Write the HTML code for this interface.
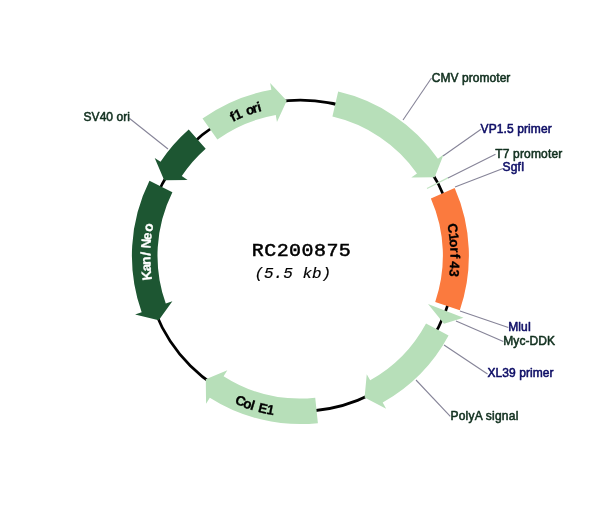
<!DOCTYPE html>
<html lang="en"><head><meta charset="utf-8"><title>RC200875 plasmid map</title>
<style>
html,body{margin:0;padding:0;background:#fff;}
body{width:600px;height:512px;overflow:hidden;}
svg{display:block;opacity:0.999;will-change:opacity;}
.lbl{font-family:"Liberation Sans",Arial,sans-serif;font-size:12px;stroke-width:0.55px;letter-spacing:0.06px;stroke-linejoin:round;}
.ct{font-family:"Liberation Sans",Arial,sans-serif;font-weight:bold;stroke-width:0.3px;stroke-linejoin:round;}
.title{font-family:"Liberation Mono","Courier New",monospace;font-weight:normal;font-size:20px;letter-spacing:0.44px;fill:#000;stroke:#000;stroke-width:0.55px;}
.sub{font-family:"Liberation Mono","Courier New",monospace;font-style:italic;font-size:16px;letter-spacing:0;fill:#000;stroke:#000;stroke-width:0.2px;}
</style></head><body>
<svg width="600" height="512" viewBox="0 0 600 512">
<defs><path id="t_f1" d="M198.42,145.88 A149.80,149.80 0 0 1 303.31,105.93"/><path id="t_kan" d="M159.80,308.51 A150.10,150.10 0 0 1 162.55,196.09"/><path id="t_orf" d="M437.21,194.17 A150.10,150.10 0 0 1 441.53,306.54"/><path id="t_col" d="M198.76,381.54 A161.70,161.70 0 0 0 314.67,416.76"/></defs>
<circle cx="300.30" cy="255.70" r="155.60" fill="none" stroke="#000" stroke-width="2.7"/>
<path d="M338.18,91.62 A168.40,168.40 0 0 1 437.91,158.64 L443.63,154.60 L434.64,177.20 L411.27,177.43 L416.99,173.39 A142.80,142.80 0 0 0 332.42,116.56 Z" fill="#b7dfb9"/>
<path d="M202.51,118.60 A168.40,168.40 0 0 1 271.35,89.81 L270.15,82.91 L286.74,100.69 L276.96,121.92 L275.75,115.03 A142.80,142.80 0 0 0 217.38,139.44 Z" fill="#b7dfb9"/>
<path d="M188.71,129.58 A168.40,168.40 0 0 0 160.52,161.78 L154.71,157.88 L164.21,180.26 L187.58,179.96 L181.77,176.06 A142.80,142.80 0 0 1 205.68,148.75 Z" fill="#1d5632"/>
<path d="M149.46,180.82 A168.40,168.40 0 0 0 141.66,312.20 L135.07,314.55 L158.71,320.23 L172.37,301.26 L165.78,303.61 A142.80,142.80 0 0 1 172.39,192.21 Z" fill="#1d5632"/>
<path d="M317.90,423.18 A168.40,168.40 0 0 1 209.81,397.72 L206.05,403.63 L205.79,379.31 L227.33,370.23 L223.57,376.13 A142.80,142.80 0 0 0 315.23,397.72 Z" fill="#b7dfb9"/>
<path d="M448.57,335.54 A168.40,168.40 0 0 1 382.71,402.56 L386.13,408.66 L364.58,397.40 L366.75,374.13 L370.18,380.23 A142.80,142.80 0 0 0 426.03,323.40 Z" fill="#b7dfb9"/>
<path d="M454.68,187.93 A168.60,168.60 0 0 1 459.81,310.31 L435.21,301.89 A142.60,142.60 0 0 0 430.87,198.38 Z" fill="#fb7a3e"/>
<path d="M428,304 L463.5,317.8 L444,323.8 Z" fill="#b7dfb9"/>
<line x1="427" y1="188.5" x2="448.3" y2="177.6" stroke="#c3e4c4" stroke-width="1.2"/>
<line x1="431.5" y1="78" x2="403" y2="120" stroke="#868498" stroke-width="1.1"/>
<line x1="481" y1="129.3" x2="443" y2="156" stroke="#868498" stroke-width="1.1"/>
<line x1="495.5" y1="154.3" x2="448" y2="178" stroke="#868498" stroke-width="1.1"/>
<line x1="503" y1="168.6" x2="455" y2="187" stroke="#868498" stroke-width="1.1"/>
<line x1="508.3" y1="327.4" x2="460" y2="311" stroke="#868498" stroke-width="1.1"/>
<line x1="503.3" y1="341.6" x2="456" y2="321" stroke="#868498" stroke-width="1.1"/>
<line x1="487.5" y1="374" x2="444" y2="345" stroke="#868498" stroke-width="1.1"/>
<line x1="450.3" y1="416.4" x2="416" y2="380" stroke="#868498" stroke-width="1.1"/>
<line x1="129.3" y1="118.2" x2="168" y2="149" stroke="#868498" stroke-width="1.1"/>
<text x="431.8" y="82.3" fill="#11301f" stroke="#11301f" class="lbl" style="letter-spacing:0.05px">CMV promoter</text>
<text x="480.6" y="132.6" fill="#0e0e66" stroke="#0e0e66" class="lbl" style="letter-spacing:0.1px">VP1.5 primer</text>
<text x="495.3" y="157.6" fill="#11301f" stroke="#11301f" class="lbl" style="letter-spacing:0.16px">T7 promoter</text>
<text x="502.6" y="170.7" fill="#0e0e66" stroke="#0e0e66" class="lbl" style="letter-spacing:0.1px">SgfI</text>
<text x="508.3" y="331.3" fill="#0e0e66" stroke="#0e0e66" class="lbl">MluI</text>
<text x="503.3" y="345.4" fill="#11301f" stroke="#11301f" class="lbl">Myc-DDK</text>
<text x="487.5" y="377" fill="#0e0e66" stroke="#0e0e66" class="lbl">XL39 primer</text>
<text x="450.5" y="420" fill="#11301f" stroke="#11301f" class="lbl" style="letter-spacing:0.22px">PolyA signal</text>
<text x="83.5" y="120.5" fill="#11301f" stroke="#11301f" class="lbl">SV40 ori</text>
<text class="ct" fill="#000" stroke="#000" font-size="13.5" letter-spacing="-0.25" dx="0 0 0 1.0 -1.2 -0.3"><textPath href="#t_f1" startOffset="50%" text-anchor="middle">f1 ori</textPath></text>
<text class="ct" fill="#fff" stroke="#fff" font-size="13.5" letter-spacing="-0.4" dx="0 -0.7 -0.7 1.0 0 0.4 -1.2 1.2"><textPath href="#t_kan" startOffset="50%" text-anchor="middle">Kan/ Neo</textPath></text>
<text class="ct" fill="#000" stroke="#000" font-size="13.5" letter-spacing="-0.4" dx="0 0 -1.1 0.3 1.3 0 -0.3 0.6"><textPath href="#t_orf" startOffset="50%" text-anchor="middle">C1orf 43</textPath></text>
<text class="ct" fill="#000" stroke="#000" font-size="13.5" letter-spacing="-0.3" dx="0 -0.8 -0.4 0 1.5 0"><textPath href="#t_col" startOffset="50%" text-anchor="middle">Col E1</textPath></text>
<text transform="translate(251.8,255.9) scale(1,0.89)" class="title">RC200875</text>
<text transform="translate(254.4,277.9) scale(1,0.9)" class="sub">(5.5 kb)</text>
</svg>
</body></html>
